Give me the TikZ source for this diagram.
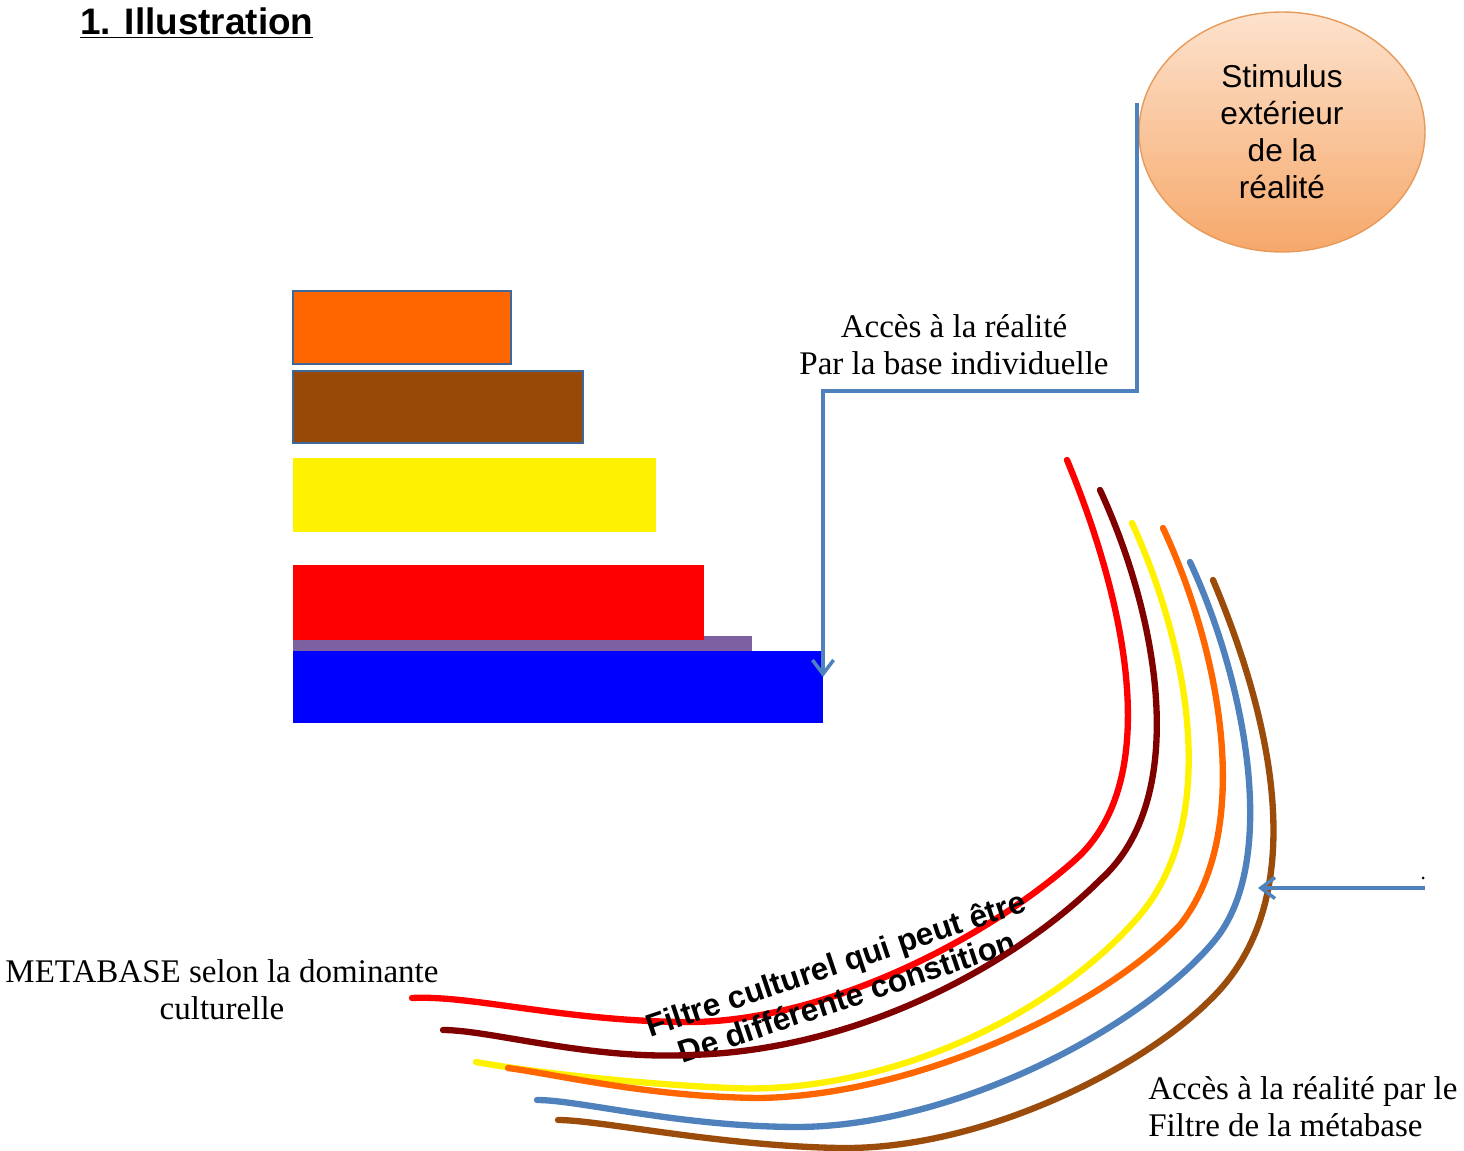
\documentclass[tikz,border=0pt]{standalone}
\usepackage{fontspec}
\setmainfont{Liberation Serif}
\newfontfamily\arialf{Liberation Sans}
\usetikzlibrary{arrows.meta,shapes.geometric}
\definecolor{connblue}{RGB}{79,129,189}
\definecolor{rorange}{RGB}{255,102,0}
\definecolor{rbrown}{RGB}{152,72,7}
\definecolor{rpurple}{RGB}{125,96,160}
\definecolor{dkred}{RGB}{128,0,0}
\definecolor{lbrown}{RGB}{155,75,10}
\definecolor{peachtop}{RGB}{253,226,205}
\definecolor{peachbot}{RGB}{246,168,106}
\definecolor{peachline}{RGB}{230,155,90}
\tikzset{
  conn/.style={draw=connblue, line width=2pt, -{Straight Barb[length=8pt,width=12pt,line width=2pt]}},
  fcurve/.style={line width=3.6pt, line cap=round, line join=round},
  serift/.style={font=\fontsize{18.8}{21}\selectfont, inner sep=0pt},
}
\begin{document}
\begin{tikzpicture}[x=0.02cm,y=-0.02cm]
\useasboundingbox (0,0) rectangle (1464,1151);
% title
\node[anchor=base west, inner sep=0pt, font=\arialf\bfseries\fontsize{21}{24}\selectfont] (title) at (80,35) {\underline{1. Illustration}};
% bars
\fill[rpurple] (293,636) rectangle (752,653);
\draw[fill=rorange, draw=connblue!80!black, line width=0.8pt] (293,291) rectangle (511,364);
\draw[fill=rbrown, draw=connblue!80!black, line width=0.8pt] (293,371) rectangle (583,443);
\fill[yellow] (293,458) rectangle (656,532);
\fill[red] (293,565) rectangle (704,640);
\fill[blue] (293,651) rectangle (823,723);
% ellipse
\node[ellipse, minimum width=5.72cm, minimum height=4.8cm, top color=peachtop, bottom color=peachbot, draw=peachline, line width=0.8pt, align=center, font=\arialf\fontsize{18}{21}\selectfont, inner sep=0pt] (stim) at (1282,132) {Stimulus\\ extérieur\\ de la\\ réalité};
% labels
\node[serift, align=center] (acces1) at (954,345) {Accès à la réalité\\Par la base individuelle};
\node[serift, align=center] (meta) at (222,990) {METABASE selon la dominante\\culturelle};
\node[serift, align=left, anchor=west] (acces2) at (1148,1107) {Accès à la réalité par le\\Filtre de la métabase};
% connector from stimulus to base
\coordinate (cstart) at (1137,103);
\coordinate (cend) at (823,677);
\draw[conn] (cstart) -- (1137,391) -- (823,391) -- (cend);
% curves
\draw[fcurve, red] (1067,460) .. controls (1125,600) and (1165,780) .. (1075,860)
  .. controls (985,940) and (820,1025) .. (680,1022)
  .. controls (560,1020) and (470,995) .. (412,998);
\node[align=center, rotate=18.5, font=\arialf\bfseries\fontsize{18}{20}\selectfont, inner sep=0pt] (filtre) at (841,980) {Filtre culturel qui peut être\\De différente constition};
\draw[fcurve, dkred] (1100,490) .. controls (1160,620) and (1190,800) .. (1100,880)
  .. controls (1025,955) and (870,1050) .. (690,1055)
  .. controls (590,1060) and (490,1030) .. (443,1030);
\draw[fcurve, yellow] (1132,523) .. controls (1190,650) and (1220,820) .. (1140,915)
  .. controls (1050,1020) and (880,1095) .. (730,1088)
  .. controls (620,1083) and (520,1070) .. (476,1062);
\draw[fcurve, rorange] (1163,528) .. controls (1220,650) and (1255,830) .. (1180,925)
  .. controls (1105,1005) and (920,1095) .. (760,1098)
  .. controls (650,1097) and (560,1075) .. (508,1068);
\draw[fcurve, connblue] (1190,562) .. controls (1245,680) and (1280,860) .. (1215,940)
  .. controls (1145,1025) and (960,1125) .. (800,1127)
  .. controls (680,1127) and (580,1100) .. (537,1100);
\draw[fcurve, lbrown] (1213,580) .. controls (1272,720) and (1314,900) .. (1210,1000)
  .. controls (1140,1070) and (980,1150) .. (840,1148)
  .. controls (720,1146) and (600,1120) .. (558,1120);
% right arrow
\coordinate (rstart) at (1425,888);
\coordinate (rend) at (1258,888);
\draw[conn] (rstart) -- (rend);
\fill[black] (1423,878) circle (1.5);
\end{tikzpicture}
\end{document}
